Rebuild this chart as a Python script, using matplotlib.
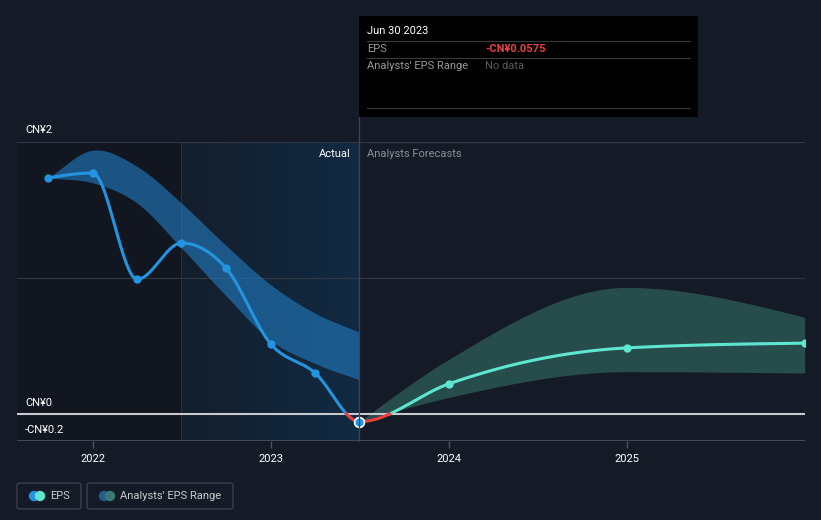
import numpy as np
import matplotlib
matplotlib.use("Agg")
import matplotlib.pyplot as plt
from matplotlib.patches import FancyBboxPatch, Rectangle, Ellipse
import matplotlib.colors as mcolors

plt.rcParams['font.family'] = ['Roboto', 'DejaVu Sans']

# ---- data ----
eps_dates = [2021.745, 2021.997, 2022.247, 2022.496, 2022.745, 2022.997, 2023.247, 2023.496]
eps_values = [1.735, 1.772, 0.99, 1.257, 1.074, 0.515, 0.30, -0.0575]

past_band_dates = [2021.745, 2021.997, 2022.247, 2022.496, 2022.745, 2022.997, 2023.247, 2023.496]
past_band_high = [1.735, 1.94, 1.82, 1.55, 1.24, 0.95, 0.74, 0.60]
past_band_low = [1.735, 1.70, 1.55, 1.22, 0.87, 0.54, 0.37, 0.25]

fc_dates = [2023.496, 2023.997, 2024.997, 2025.997]
fc_values = [-0.0575, 0.22, 0.485, 0.52]
fc_high = [-0.0575, 0.40, 0.93, 0.71]
fc_low = [-0.0575, 0.12, 0.31, 0.30]

year_ticks = [2022, 2023, 2024, 2025]
y_label_text = ["CN¥2", "CN¥0", "-CN¥0.2"]

# ---- smooth curve helpers ----
def hermite(x, y, m, n):
    h = np.diff(x)
    xx = np.linspace(x[0], x[-1], n)
    idx = np.clip(np.searchsorted(x, xx) - 1, 0, len(x) - 2)
    t = (xx - x[idx]) / h[idx]
    h00 = 2*t**3 - 3*t**2 + 1; h10 = t**3 - 2*t**2 + t
    h01 = -2*t**3 + 3*t**2; h11 = t**3 - t**2
    yy = h00*y[idx] + h10*h[idx]*m[idx] + h01*y[idx+1] + h11*h[idx]*m[idx+1]
    return xx, yy

def monotone(xs, ys, n=300):
    # d3.curveMonotoneX style tangents
    x = np.asarray(xs, float); y = np.asarray(ys, float)
    h = np.diff(x); s = np.diff(y) / h
    m = np.zeros_like(y)
    for i in range(1, len(x) - 1):
        p = (s[i-1]*h[i] + s[i]*h[i-1]) / (h[i-1] + h[i])
        m[i] = (np.sign(s[i-1]) + np.sign(s[i])) * min(abs(s[i-1]), abs(s[i]), 0.5*abs(p))
    if len(x) > 2:
        m[0] = (3*s[0] - m[1]) / 2
        m[-1] = (3*s[-1] - m[-2]) / 2
    else:
        m[:] = s[0]
    return hermite(x, y, m, n)

def catmull(xs, ys, n=300):
    x = np.asarray(xs, float); y = np.asarray(ys, float)
    m = np.zeros_like(y)
    m[1:-1] = (y[2:] - y[:-2]) / (x[2:] - x[:-2])
    m[0] = (y[1] - y[0]) / (x[1] - x[0])
    m[-1] = (y[-1] - y[-2]) / (x[-1] - x[-2])
    return hermite(x, y, m, n)

BG = "#151b26"
fig = plt.figure(figsize=(8.21, 5.2), dpi=100, facecolor=BG)
W, H = 821, 520
x0, x1 = 17, 805
ytop, ybot = 142, 441
ax = fig.add_axes([x0/W, (H-ybot)/H, (x1-x0)/W, (ybot-ytop)/H])
ax.set_facecolor(BG)
PX_PER_YR = 178.0
X2022 = 93.2
xmin = 2022 - (X2022 - x0) / PX_PER_YR
xmax = 2022 + (x1 - X2022) / PX_PER_YR
ax.set_xlim(xmin, xmax)
ax.set_ylim(-0.2, 2.0)
for s in ax.spines.values():
    s.set_visible(False)

split = eps_dates[3]
now = eps_dates[-1]
# shaded regions
ax.axvspan(xmin, split, color="#111620", zorder=0, lw=0)
grad = np.linspace(0, 1, 256).reshape(1, -1)
cmap = mcolors.LinearSegmentedColormap.from_list("g", ["#141e2c", "#112a42"])
ax.imshow(grad, extent=[split, now, -0.2, 2.0], aspect="auto", cmap=cmap, zorder=0.5)
ax.axvline(split, color="#263244", lw=0.8, zorder=0.6)

# gridlines
for yv in [2.0, 1.0]:
    ax.axhline(yv, color="#2f3744", lw=0.9, zorder=1)
ax.axhline(-0.2, color="#4a5260", lw=1.2, zorder=1)

# past band
bx, bh = catmull(past_band_dates, past_band_high)
_, bl = catmull(past_band_dates, past_band_low)
ax.fill_between(bx, bl, bh, color="#2176b8", alpha=0.65, lw=0, zorder=2)

# forecast band
fx, fh = monotone(fc_dates, fc_high)
_, fl = monotone(fc_dates, fc_low)
ax.fill_between(fx, fl, fh, color="#2e5d59", alpha=0.75, lw=0, zorder=2)

# zero line
ax.axhline(0, color="#c8cacd", lw=1.5, zorder=3)

# EPS line: one continuous curve through actual + forecast points
all_x = eps_dates + fc_dates[1:]
all_y = eps_values + fc_values[1:]
lx, ly = monotone(all_x, all_y, 2000)
blue = np.ma.masked_where((ly < 0) | (lx > now), ly)
teal = np.ma.masked_where((ly < 0) | (lx < now), ly)
red = np.ma.masked_where(ly >= 0, ly)
ax.plot(lx, blue, color="#2394df", lw=2.2, zorder=4)
ax.plot(lx, teal, color="#5ee6d0", lw=2.2, zorder=4)
ax.plot(lx, red, color="#e8403f", lw=2.2, zorder=4)
ax.scatter(eps_dates[:-1], eps_values[:-1], s=36, color="#2394df", zorder=5, lw=0)
ax.scatter(fc_dates[1:], fc_values[1:], s=36, color="#5ee6d0", zorder=5, lw=0)

# highlighted point
ax.scatter([eps_dates[-1]], [eps_values[-1]], s=50, color="#2394df", edgecolor="white", lw=1.2, zorder=6)

# ticks
ax.set_xticks(year_ticks)
ax.set_xticklabels([str(y) for y in year_ticks])
ax.tick_params(axis="x", colors="#4a5260", labelcolor="white", length=5, width=1, labelsize=8, pad=4)
ax.set_yticks([])
for lab, yy in zip(y_label_text, [130, 403, 430]):
    fig.text(25/W, 1 - yy/H, lab, fontsize=8, color="white", va="center")

# Actual / Forecast labels
fig.text(351/W, 1 - 154/H, "Actual", fontsize=8, color="white", ha="right", va="center")
fig.text(367/W, 1 - 154/H, "Analysts Forecasts", fontsize=8, color="#8a8f98", ha="left", va="center")

# vertical divider line at current date
fig.add_artist(plt.Line2D([359/W, 359/W], [1 - 16/H, 1 - 441/H], color="#3a4656", lw=0.9, zorder=1))

# tooltip
fig.add_artist(Rectangle((359/W, 1 - 117/H), (698-359)/W, (117-16)/H, facecolor="black", edgecolor="none", zorder=10))
fig.text(367/W, 1 - 31/H, "Jun 30 2023", fontsize=8, color="white", va="center", zorder=11)
for yy in [41, 58, 108]:
    fig.add_artist(plt.Line2D([367/W, 690/W], [1 - yy/H, 1 - yy/H], color="#3a3a3a", lw=0.8, zorder=11))
fig.text(367/W, 1 - 49/H, "EPS", fontsize=8, color="#9a9a9a", va="center", zorder=11)
fig.text(485/W, 1 - 49/H, "-CN¥0.0575", fontsize=8, color="#e8403f", va="center", zorder=11, fontweight="bold")
fig.text(367/W, 1 - 66/H, "Analysts' EPS Range", fontsize=8, color="#9a9a9a", va="center", zorder=11)
fig.text(485/W, 1 - 66/H, "No data", fontsize=8, color="#5a5a5a", va="center", zorder=11)

# legend
def legbox(xa, xb, c1, c2, label):
    fig.add_artist(FancyBboxPatch((xa/W, 1 - 509/H), (xb-xa)/W, (509-483)/H,
                                  boxstyle="round,pad=0,rounding_size=0.004",
                                  facecolor="none", edgecolor="#3e4552", lw=0.9))
    fig.add_artist(Ellipse(((xa+17)/W, 1 - 496/H), 9/W, 9/H, color=c1))
    fig.add_artist(Ellipse(((xa+23)/W, 1 - 496/H), 9/W, 9/H, color=c2))
    fig.text((xa+33)/W, 1 - 496/H, label, fontsize=8, color="#c8cacd", va="center")

legbox(17, 81, "#2394df", "#5ee6d0", "EPS")
legbox(87, 233, "#1f5f8f", "#3a7a74", "Analysts' EPS Range")

fig.savefig("out.png", dpi=100, facecolor=BG)
